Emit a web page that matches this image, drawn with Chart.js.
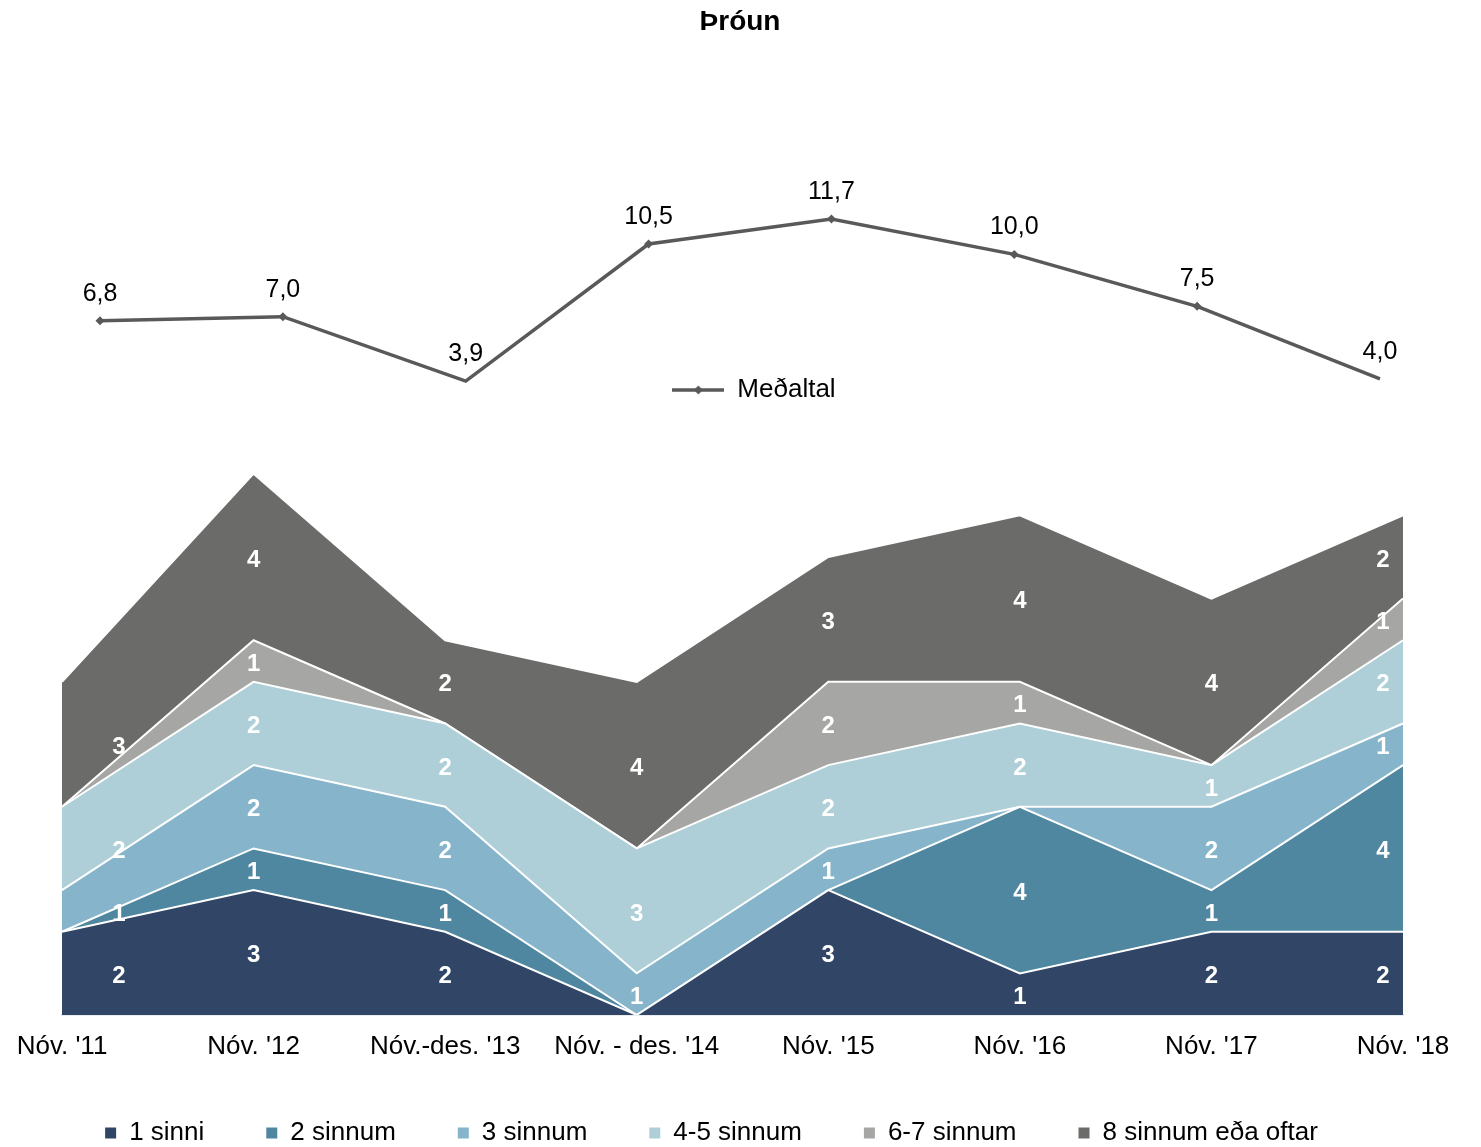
<!DOCTYPE html>
<html><head><meta charset="utf-8">
<script src="https://cdn.jsdelivr.net/npm/chart.js@4/dist/chart.umd.min.js"></script>
<style>
html,body{margin:0;padding:0;background:#fff;overflow:hidden;width:1481px;height:1147px;}
.wrap{position:absolute;left:0;width:1481px;}
</style></head><body>
<div class="wrap" style="top:0;height:413px"><canvas id="topChart" width="1481" height="413"></canvas></div>
<div class="wrap" style="top:420px;height:736px"><canvas id="botChart" width="1481" height="736"></canvas></div>
<script>
const categories = ["Nóv. '11", "Nóv. '12", "Nóv.-des. '13", "Nóv. - des. '14", "Nóv. '15", "Nóv. '16", "Nóv. '17", "Nóv. '18"];
const medaltal = [6.8, 7.0, 3.9, 10.5, 11.7, 10.0, 7.5, 4.0];
const sinni1   = [2, 3, 2, 0, 3, 1, 2, 2];
const sinnum2  = [0, 1, 1, 0, 0, 4, 1, 4];
const sinnum3  = [1, 2, 2, 1, 1, 0, 2, 1];
const sinnum45 = [2, 2, 2, 3, 2, 2, 1, 2];
const sinnum67 = [0, 1, 0, 0, 2, 1, 0, 1];
const sinnum8  = [3, 4, 2, 4, 3, 4, 4, 2];
const seriesNames = ["1 sinni", "2 sinnum", "3 sinnum", "4-5 sinnum", "6-7 sinnum", "8 sinnum eða oftar"];
const seriesData = [sinni1, sinnum2, sinnum3, sinnum45, sinnum67, sinnum8];
const seriesColors = ["#314566", "#4f87a1", "#86b5cb", "#aecfd8", "#a6a6a4", "#6b6b69"];

const FONT = '"Liberation Sans", Arial, sans-serif';
Chart.defaults.font.family = FONT;
Chart.defaults.color = '#000';

function fmt(v){ return v.toFixed(1).replace('.', ','); }

function shiftLegend(dx){
  return { id: 'shiftLegend', afterLayout(chart){ if (chart.legend){ chart.legend.left += dx; chart.legend.right += dx; } } };
}

// legend glyph: line with diamond
const legImg = document.createElement('canvas');
legImg.width = 52; legImg.height = 12;
(function(){
  const c = legImg.getContext('2d');
  c.strokeStyle = '#595959'; c.lineWidth = 3.5;
  c.beginPath(); c.moveTo(0, 6); c.lineTo(52, 6); c.stroke();
  c.fillStyle = '#595959';
  c.beginPath(); c.moveTo(26, 1.5); c.lineTo(30.5, 6); c.lineTo(26, 10.5); c.lineTo(21.5, 6); c.closePath(); c.fill();
})();

const lineLabels = {
  id: 'lineLabels',
  afterDatasetsDraw(chart){
    const ctx = chart.ctx;
    const meta = chart.getDatasetMeta(0);
    ctx.save();
    ctx.font = '25px ' + FONT;
    ctx.fillStyle = '#000';
    ctx.textAlign = 'center';
    ctx.textBaseline = 'middle';
    meta.data.forEach((pt, i) => { ctx.fillText(fmt(medaltal[i]), pt.x, pt.y - 27); });
    ctx.restore();
  }
};

new Chart(document.getElementById('topChart'), {
  type: 'line',
  data: {
    labels: categories,
    datasets: [{
      label: 'Meðaltal',
      data: medaltal,
      borderColor: '#595959',
      backgroundColor: '#595959',
      borderWidth: 3.5,
      pointStyle: 'rectRot',
      pointRadius: 4.5,
      pointBackgroundColor: '#595959',
      pointBorderWidth: 0,
      tension: 0,
      clip: false
    }]
  },
  options: {
    responsive: false,
    animation: false,
    events: [],
    layout: { padding: { left: 8.6, right: 9.6, top: 0, bottom: 0 } },
    scales: {
      x: { display: false, offset: true },
      y: { display: false, min: 4.576, max: 17.437 }
    },
    plugins: {
      title: { display: true, text: 'Þróun', font: { size: 28, weight: 'bold' }, color: '#000', padding: { top: 5, bottom: 61.4 } },
      legend: {
        position: 'bottom',
        labels: {
          usePointStyle: true,
          pointStyle: legImg,
          pointStyleWidth: 52,
          font: { size: 26 },
          color: '#000',
          padding: 10
        }
      },
      tooltip: { enabled: false }
    }
  },
  plugins: [lineLabels, shiftLegend(14)]
});

const areaLabels = {
  id: 'areaLabels',
  afterDatasetsDraw(chart){
    const ctx = chart.ctx, xs = chart.scales.x, ys = chart.scales.y;
    const n = categories.length;
    const base = new Array(n).fill(0);
    ctx.save();
    ctx.font = 'bold 24px ' + FONT;
    ctx.fillStyle = '#fff';
    ctx.textAlign = 'center';
    ctx.textBaseline = 'middle';
    seriesData.forEach(arr => {
      arr.forEach((v, i) => {
        if (v > 0) {
          let px = xs.getPixelForValue(i);
          if (i === 0) px += 57; else if (i === n - 1) px -= 20;
          const py = (ys.getPixelForValue(base[i]) + ys.getPixelForValue(base[i] + v)) / 2 + 3;
          ctx.fillText(String(v), px, py);
        }
        base[i] += v;
      });
    });
    ctx.restore();
  }
};

new Chart(document.getElementById('botChart'), {
  type: 'line',
  data: {
    labels: categories,
    datasets: seriesData.map((arr, i) => ({
      label: seriesNames[i],
      data: arr,
      backgroundColor: seriesColors[i],
      borderColor: '#ffffff',
      borderWidth: 2,
      pointRadius: 0,
      tension: 0,
      fill: i === 0 ? 'origin' : '-1'
    }))
  },
  options: {
    responsive: false,
    animation: false,
    events: [],
    layout: { padding: { left: 62, right: 78, top: 12, bottom: 0 } },
    scales: {
      x: {
        offset: false,
        z: 1,
        grid: { display: false, drawTicks: false },
        border: { display: true, color: '#d3d9e2', width: 1.5 },
        ticks: { font: { size: 26, lineHeight: 2.4615 }, color: '#000', padding: 0, autoSkip: false, maxRotation: 0 },
        afterFit(scale){ scale.height = 43; }
      },
      y: { display: false, stacked: true, min: 0, max: 14 }
    },
    plugins: {
      legend: {
        position: 'bottom',
        labels: {
          boxWidth: 11,
          boxHeight: 11,
          font: { size: 26 },
          color: '#000',
          padding: 62,
          generateLabels(chart){
            return Chart.defaults.plugins.legend.labels.generateLabels(chart).map(l => Object.assign(l, { lineWidth: 0, strokeStyle: 'rgba(0,0,0,0)' }));
          }
        }
      },
      filler: { propagate: false },
      tooltip: { enabled: false }
    }
  },
  plugins: [areaLabels, shiftLegend(-21)]
});
</script>
</body></html>
